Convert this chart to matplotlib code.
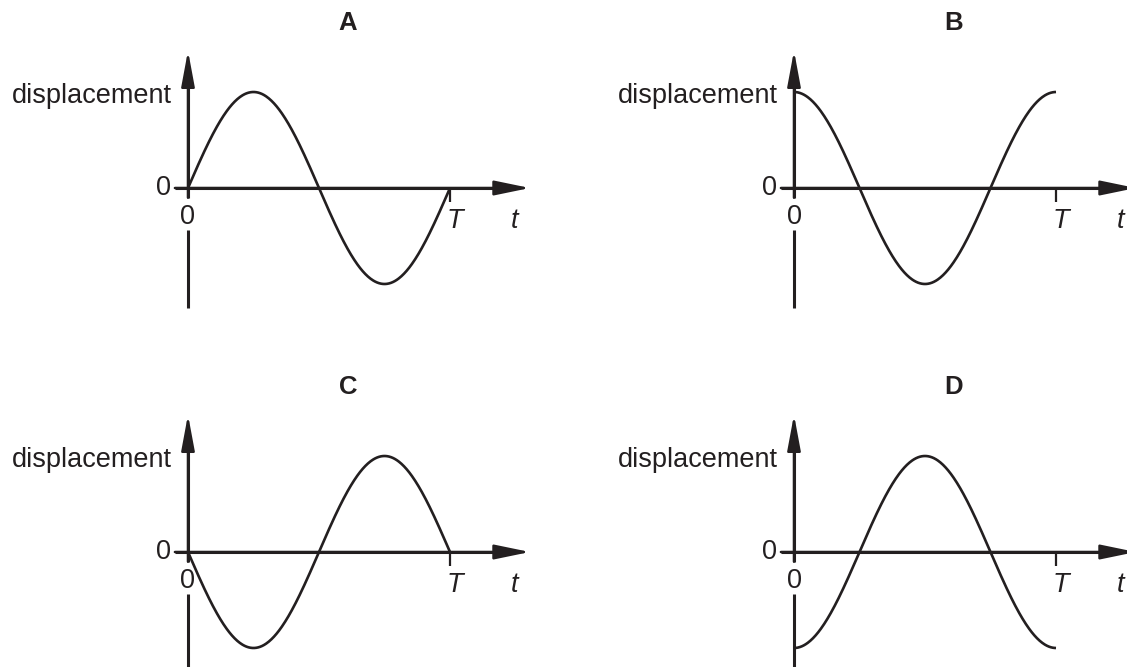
import numpy as np
import matplotlib
matplotlib.use("Agg")
import matplotlib.pyplot as plt

plt.rcParams['font.family'] = ['Liberation Sans', 'DejaVu Sans']

# four candidate graphs, one full period each
panel_labels = ['A', 'B', 'C', 'D']
phase_cycles = [0.0, 0.25, 0.5, 0.75]   # start phase of each curve, in cycles
amplitude = 1.0
period = 1.0
y_label = 'displacement'
x_label = 't'
period_label = 'T'
zero_label = '0'

ink = '#231f20'
W, H = 1127, 667
px_T = 262.0     # pixels per period
px_amp = 96.0    # pixels per amplitude
origins = [(188, 188), (794, 188), (188, 552), (794, 552)]

fig = plt.figure(figsize=(W / 100, H / 100), dpi=100)
fig.patch.set_facecolor('white')

for label, phase, (ox, oy) in zip(panel_labels, phase_cycles, origins):
    left, right, top, bottom = ox - 188, ox + 333, oy - 185, oy + 120
    ax = fig.add_axes([left / W, 1 - bottom / H, (right - left) / W, (bottom - top) / H])
    ax.set_xlim((left - ox) / px_T, (right - ox) / px_T)
    ax.set_ylim((oy - bottom) / px_amp, (oy - top) / px_amp)
    ax.axis('off')

    # curve
    t = np.linspace(0, period, 400)
    y = amplitude * np.sin(2 * np.pi * (t / period + phase))
    ax.plot(t, y, color=ink, lw=1.9, solid_capstyle='butt', clip_on=False)

    # vertical axis with a gap for the "0" label
    ax.plot([0, 0], [-1.25, -0.44], color=ink, lw=2.2, clip_on=False, solid_capstyle='butt')
    ax.annotate('', xy=(0, 1.43), xytext=(0, -0.10),
                arrowprops=dict(arrowstyle='-|>,head_length=1.45,head_width=0.27',
                                color=ink, lw=1.8, shrinkA=0, shrinkB=0,
                                mutation_scale=15), annotation_clip=False)
    # horizontal axis
    ax.annotate('', xy=(1.305, 0), xytext=(-0.05, 0),
                arrowprops=dict(arrowstyle='-|>,head_length=1.45,head_width=0.3',
                                color=ink, lw=1.8, shrinkA=0, shrinkB=0,
                                mutation_scale=15), annotation_clip=False)
    # keep the axis lines at full weight
    ax.plot([0, 0], [-0.10, 1.2], color=ink, lw=2.2, solid_capstyle='butt')
    ax.plot([-0.05, 1.2], [0, 0], color=ink, lw=2.2, solid_capstyle='butt')
    # tick at T
    ax.plot([period, period], [0, -0.15], color=ink, lw=1.6, solid_capstyle='butt')

    fs = 19.5
    ax.text(-0.092, 0, zero_label, fontsize=fs, color=ink, ha='center', va='center')
    ax.text(0, -0.30, zero_label, fontsize=fs, color=ink, ha='center', va='center')
    ax.text(1.02, -0.34, period_label, fontsize=fs, color=ink, ha='center', va='center',
            style='italic')
    ax.text(1.245, -0.34, x_label, fontsize=fs, color=ink, ha='center', va='center',
            style='italic')
    ax.text(-0.063, 0.96, y_label, fontsize=fs, color=ink, ha='right', va='center')
    ax.text(0.61, 1.72, label, fontsize=18.5, color=ink, ha='center', va='center',
            fontweight='bold')

fig.savefig('out.png', dpi=100, facecolor='white')
